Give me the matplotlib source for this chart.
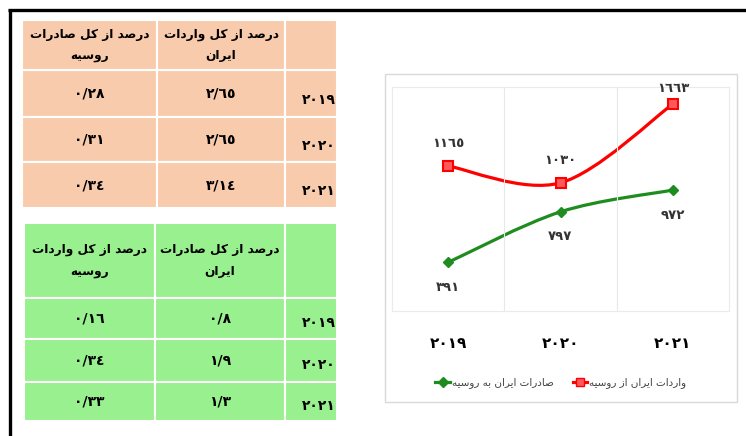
import matplotlib
matplotlib.use("Agg")
import matplotlib.pyplot as plt
from matplotlib.patches import Rectangle, PathPatch
from matplotlib.path import Path
from matplotlib.lines import Line2D

# ---- data ----
YEARS = ["2019", "2020", "2021"]
IMPORTS_FROM_RUSSIA = [1165, 1030, 1663]   # red
EXPORTS_TO_RUSSIA = [391, 797, 972]        # green
LEGEND_IMPORTS = "واردات ایران از روسیه"
LEGEND_EXPORTS = "صادرات ایران به روسیه"

T1_HEADERS = ["درصد از کل صادرات\nروسیه", "درصد از کل واردات\nایران"]
T1_COL1 = ["0/28", "0/31", "0/34"]
T1_COL2 = ["2/65", "2/65", "3/14"]
T2_HEADERS = ["درصد از کل واردات\nروسیه", "درصد از کل صادرات\nایران"]
T2_COL1 = ["0/16", "0/34", "0/33"]
T2_COL2 = ["0/8", "1/9", "1/3"]

ORANGE = "#F8CBAD"
GREEN_CELL = "#99F08E"
RED = "#FF0000"
GREEN = "#1E8C1E"

# Arabic presentation forms: isolated, final, initial, medial
FORMS = {
    "ا": ("\uFE8D", "\uFE8E", None, None),
    "ب": ("\uFE8F", "\uFE90", "\uFE91", "\uFE92"),
    "ت": ("\uFE95", "\uFE96", "\uFE97", "\uFE98"),
    "د": ("\uFEA9", "\uFEAA", None, None),
    "ر": ("\uFEAD", "\uFEAE", None, None),
    "ز": ("\uFEAF", "\uFEB0", None, None),
    "س": ("\uFEB1", "\uFEB2", "\uFEB3", "\uFEB4"),
    "ص": ("\uFEB9", "\uFEBA", "\uFEBB", "\uFEBC"),
    "ل": ("\uFEDD", "\uFEDE", "\uFEDF", "\uFEE0"),
    "ن": ("\uFEE5", "\uFEE6", "\uFEE7", "\uFEE8"),
    "ه": ("\uFEE9", "\uFEEA", "\uFEEB", "\uFEEC"),
    "و": ("\uFEED", "\uFEEE", None, None),
    "ک": ("\uFB8E", "\uFB8F", "\uFB90", "\uFB91"),
    "ی": ("\uFBFC", "\uFBFD", "\uFBFE", "\uFBFF"),
}
DIGITS = str.maketrans("0123456789", "٠١٢٣٤٥٦٧٨٩")


def shape(text):
    lines = []
    for line in text.split("\n"):
        out = []
        for i, ch in enumerate(line):
            if ch not in FORMS:
                out.append(ch)
                continue
            prev = line[i - 1] if i > 0 else ""
            nxt = line[i + 1] if i + 1 < len(line) else ""
            jp = prev in FORMS and FORMS[prev][2] is not None
            jn = nxt in FORMS and FORMS[ch][2] is not None
            iso, fin, ini, med = FORMS[ch]
            out.append(med if jp and jn else fin if jp else ini if jn else iso)
        lines.append("".join(reversed(out)))
    return "\n".join(lines)


def num(s):
    return s.translate(DIGITS)


def draw_table(ax, xs, ys, color, headers, col1, col2, year_dy, spacing):
    for r in range(len(ys) - 1):
        for c in range(len(xs) - 1):
            ax.add_patch(Rectangle((xs[c], ys[r]), xs[c + 1] - xs[c], ys[r + 1] - ys[r],
                                   facecolor=color, edgecolor="white", linewidth=1.5))
    yc = (ys[0] + ys[1]) / 2
    for c, h in enumerate(headers):
        ax.text((xs[c] + xs[c + 1]) / 2, yc, shape(h), ha="center", va="center",
                multialignment="center", fontsize=8.7, fontweight="bold",
                linespacing=spacing)
    for r in range(3):
        yc = (ys[r + 1] + ys[r + 2]) / 2
        ax.text((xs[0] + xs[1]) / 2, yc, num(col1[r]), ha="center", va="center",
                fontsize=10, fontweight="bold")
        ax.text((xs[1] + xs[2]) / 2, yc, num(col2[r]), ha="center", va="center",
                fontsize=10, fontweight="bold")
        ax.text(xs[3] - 1, yc + year_dy, num(YEARS[r]), ha="right", va="center",
                fontsize=10, fontweight="bold")


fig = plt.figure(figsize=(7.46, 4.36), dpi=100)
bg = fig.add_axes([0, 0, 1, 1])
bg.set_xlim(0, 746)
bg.set_ylim(436, 0)
bg.axis("off")

# frame
bg.plot([8, 746], [10.5, 10.5], color="black", linewidth=2.4, solid_capstyle="butt")
bg.plot([9.5, 9.5], [9, 436], color="black", linewidth=2.4, solid_capstyle="butt")

draw_table(bg, [22, 157, 285, 337], [20, 70, 117, 162, 208], ORANGE,
           T1_HEADERS, T1_COL1, T1_COL2, 6, 1.75)
draw_table(bg, [24, 155, 285, 337], [223, 298, 339, 382, 421], GREEN_CELL,
           T2_HEADERS, T2_COL1, T2_COL2, 4, 1.95)

# chart box
bg.add_patch(Rectangle((385, 74), 352, 328, facecolor="white", edgecolor="#D9D9D9", linewidth=1))

ax = fig.add_axes([392 / 746, (436 - 311) / 436, 337 / 746, 224 / 436])
ax.set_xlim(0, 3)
ax.set_ylim(0, 1800)
for s in ax.spines.values():
    s.set_color("#EBEBEB")
    s.set_linewidth(0.8)
ax.set_yticks([])
xs = [0.5, 1.5, 2.5]
ax.set_xticks(xs)
ax.set_xticklabels([num(y) for y in YEARS], fontsize=11, fontweight="bold")
ax.set_xticks([1, 2], minor=True)
ax.tick_params(axis="x", which="both", length=0, pad=18)
ax.grid(True, which="minor", axis="x", color="#E8E8E8", linewidth=0.8)


def smooth_path(xv, yv):
    pts = list(zip(xv, yv))
    verts = [pts[0]]
    codes = [Path.MOVETO]
    for i in range(len(pts) - 1):
        p0 = pts[i - 1] if i > 0 else pts[i]
        p1, p2 = pts[i], pts[i + 1]
        p3 = pts[i + 2] if i + 2 < len(pts) else pts[i + 1]
        c1 = (p1[0] + (p2[0] - p0[0]) / 6, p1[1] + (p2[1] - p0[1]) / 6)
        c2 = (p2[0] - (p3[0] - p1[0]) / 6, p2[1] - (p3[1] - p1[1]) / 6)
        verts += [c1, c2, p2]
        codes += [Path.CURVE4] * 3
    return Path(verts, codes)


ax.add_patch(PathPatch(smooth_path(xs, IMPORTS_FROM_RUSSIA), facecolor="none",
                       edgecolor=RED, linewidth=2.3))
ax.add_patch(PathPatch(smooth_path(xs, EXPORTS_TO_RUSSIA), facecolor="none",
                       edgecolor=GREEN, linewidth=2.3))
ax.plot(xs, IMPORTS_FROM_RUSSIA, linestyle="none", marker="s", markersize=6.5,
        markerfacecolor="#FF5A5A", markeredgecolor=RED, markeredgewidth=1.5)
ax.plot(xs, EXPORTS_TO_RUSSIA, linestyle="none", marker="D", markersize=5.5,
        color=GREEN)

red_dy = [16, 16, 11]
for x, v, dy in zip(xs, IMPORTS_FROM_RUSSIA, red_dy):
    ax.annotate(num(str(v)), (x, v), xytext=(0, dy), textcoords="offset points",
                ha="center", va="center", fontsize=9.5, fontweight="bold", color="#333333")
for x, v in zip(xs, EXPORTS_TO_RUSSIA):
    ax.annotate(num(str(v)), (x, v), xytext=(0, -18), textcoords="offset points",
                ha="center", va="center", fontsize=9.5, fontweight="bold", color="#333333")

handles = [
    Line2D([], [], color=GREEN, linewidth=2.3, marker="D", markersize=5),
    Line2D([], [], color=RED, linewidth=2.3, marker="s", markersize=5.5,
           markerfacecolor="#FF5A5A", markeredgecolor=RED),
]
fig.legend(handles, [shape(LEGEND_EXPORTS), shape(LEGEND_IMPORTS)], ncol=2,
           loc="center", bbox_to_anchor=(561 / 746, 1 - 383 / 436), frameon=False,
           fontsize=7.5, labelcolor="#404040", handlelength=1.4, handletextpad=0.2,
           columnspacing=1.8)

fig.savefig("out.png", dpi=100)
